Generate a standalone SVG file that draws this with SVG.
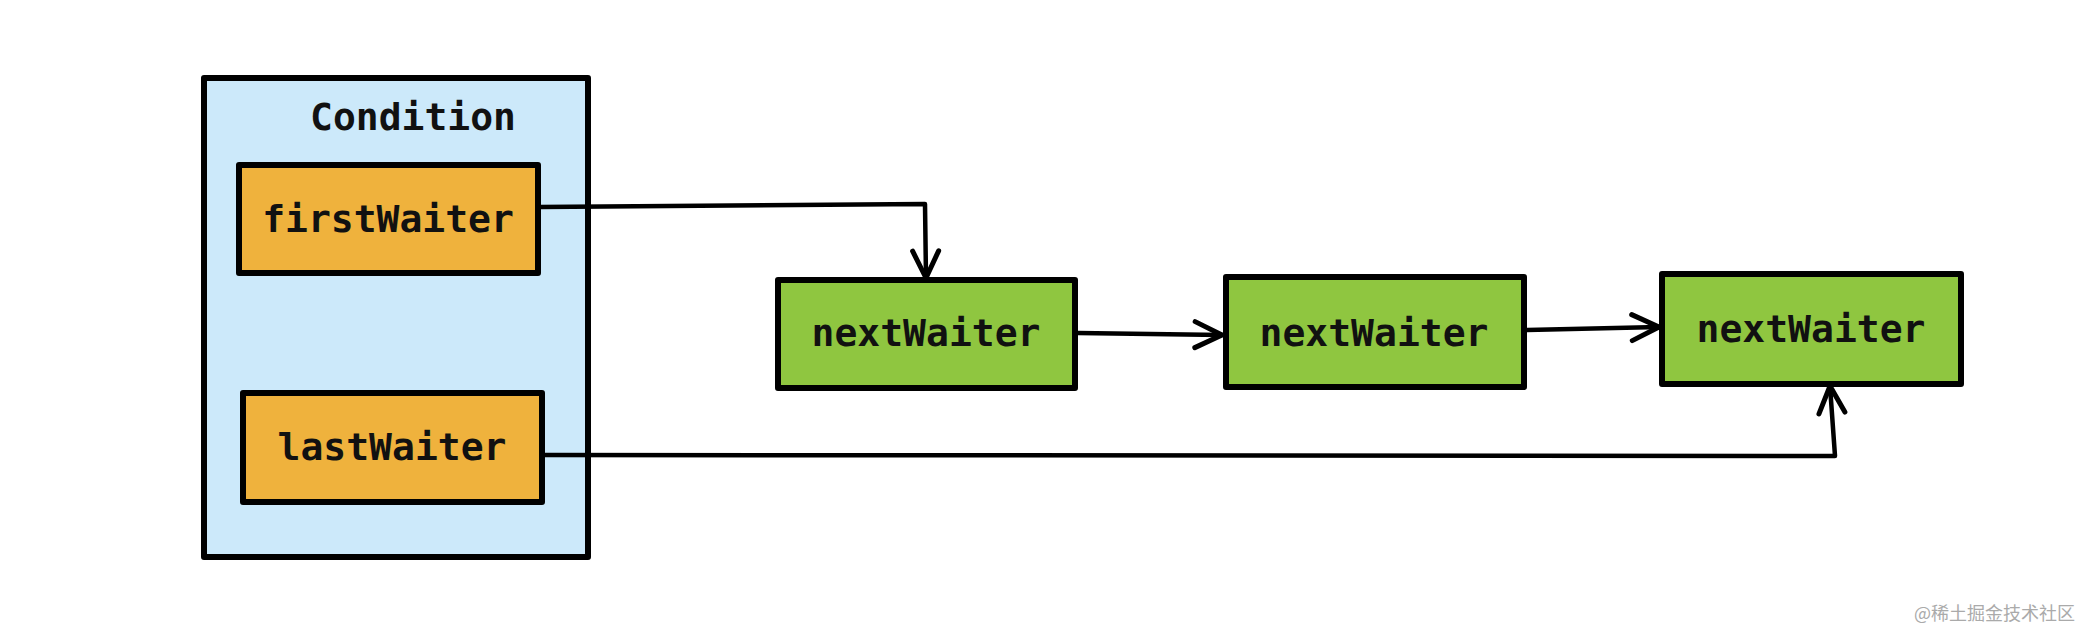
<svg xmlns="http://www.w3.org/2000/svg" width="2094" height="644" viewBox="0 0 2094 644">
<defs>
<style>
.box{stroke:#000;stroke-width:6;stroke-linejoin:round}
.cond{fill:#CCE9FA}
.var{fill:#EFB23D}
.node{fill:#8FC640}
.lbl{font-family:"DejaVu Sans Mono","Liberation Mono",monospace;font-weight:bold;font-size:38px;fill:#111;text-anchor:middle}
.edge{fill:none;stroke:#000;stroke-width:4.5;stroke-linecap:round;stroke-linejoin:round}
.wm{font-family:"Noto Sans CJK SC","Noto Sans",sans-serif;font-size:18px;fill:#aaa}
</style>
<marker id="arr" viewBox="0 0 34 34" refX="31" refY="17" markerWidth="34" markerHeight="34" markerUnits="userSpaceOnUse" orient="auto">
<path d="M4,4 L31,17 L4,30" fill="none" stroke="#000" stroke-width="5" stroke-linecap="round" stroke-linejoin="round"/>
</marker>
</defs>
<rect width="2094" height="644" fill="#fff"/>
<g id="condition">
<rect class="box cond" x="204" y="78" width="384" height="479"/>
<text class="lbl" x="413" y="130">Condition</text>
</g>
<g id="firstWaiter">
<rect class="box var" x="239" y="165" width="299" height="108"/>
<text class="lbl" x="388" y="232">firstWaiter</text>
</g>
<g id="lastWaiter">
<rect class="box var" x="243" y="393" width="299" height="109"/>
<text class="lbl" x="392" y="460">lastWaiter</text>
</g>
<g id="node1">
<rect class="box node" x="778" y="280" width="297" height="108"/>
<text class="lbl" x="926" y="346">nextWaiter</text>
</g>
<g id="node2">
<rect class="box node" x="1226" y="277" width="298" height="110"/>
<text class="lbl" x="1374" y="346">nextWaiter</text>
</g>
<g id="node3">
<rect class="box node" x="1662" y="274" width="299" height="110"/>
<text class="lbl" x="1811" y="342">nextWaiter</text>
</g>
<g id="connectors">
<path class="edge" d="M540,207 L925,204 L926,278" marker-end="url(#arr)"/>
<path class="edge" d="M1078,333 L1222,335" marker-end="url(#arr)"/>
<path class="edge" d="M1527,330 L1659,327" marker-end="url(#arr)"/>
<path class="edge" d="M544,455 L1835,456 L1830,386" marker-end="url(#arr)"/>
</g>
<text class="wm" x="1914" y="620">@稀土掘金技术社区</text>
</svg>
